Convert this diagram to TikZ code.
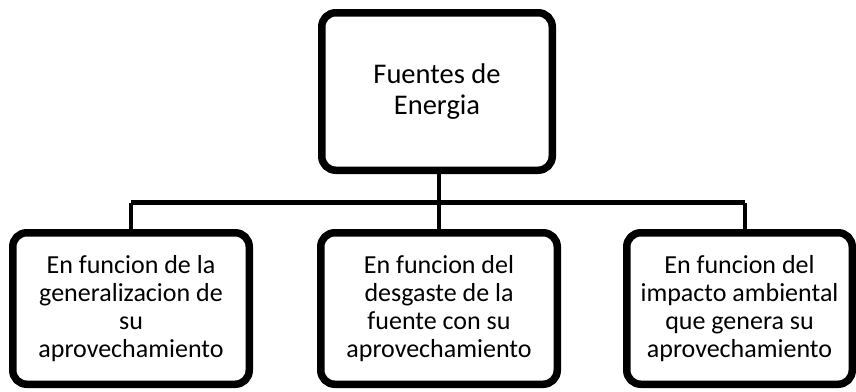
\documentclass[tikz,border=0pt]{standalone}
\usepackage{fontspec}
\setmainfont{Carlito}
\begin{document}
\begin{tikzpicture}[x=1pt,y=-1pt,
 box/.style={draw=black, line width=7.5pt, rounded corners=14pt, fill=white, align=center, inner sep=0pt, font=\fontsize{26}{28}\selectfont},
 topbox/.style={box, minimum width=230.5pt, minimum height=157.5pt, font=\fontsize{28.5}{31}\selectfont},
 lowbox/.style={box, minimum height=151.5pt},
 conn/.style={line width=4.5pt}]
\useasboundingbox (0,0) rectangle (856,391);
\coordinate (hL) at (131,202.5);
\coordinate (hR) at (745,202.5);
\draw[conn] (hL) -- (hR);
\node[topbox] (top) at (437,91.5) {Fuentes de\\Energia};
\node[lowbox, minimum width=236.5pt] (left) at (131,308.5) {En funcion de la\\generalizacion de\\su\\aprovechamiento};
\node[lowbox, minimum width=236.5pt] (mid) at (439,308.5) {En funcion del\\desgaste de la\\fuente con su\\aprovechamiento};
\node[lowbox, minimum width=225.5pt] (right) at (739.5,308.5) {En funcion del\\impacto ambiental\\que genera su\\aprovechamiento};
\draw[conn] (top.south -| mid.north) -- (mid.north);
\draw[conn] (hL) -- (left.north);
\draw[conn] (hR) -- (hR |- right.north);
\end{tikzpicture}
\end{document}
